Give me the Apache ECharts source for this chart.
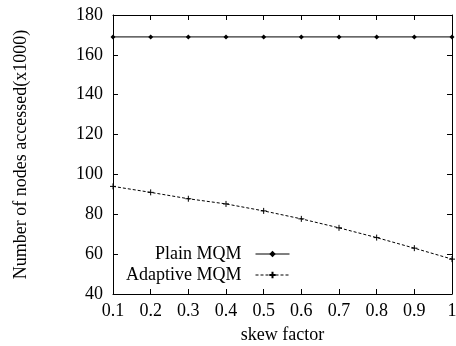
<!DOCTYPE html>
<html>
<head>
<meta charset="utf-8">
<script src="https://cdn.jsdelivr.net/npm/echarts@6/dist/echarts.min.js"></script>
<style>
  html, body { margin: 0; padding: 0; background: #fff; }
  #chart { width: 456px; height: 346px; }
</style>
</head>
<body>
<div id="chart"></div>
<script>
  // skew factor on x, nodes accessed (x1000) on y
  const skew = [0.1, 0.2, 0.3, 0.4, 0.5, 0.6, 0.7, 0.8, 0.9, 1.0]
  const plainMQM = [169, 169, 169, 169, 169, 169, 169, 169, 169, 169]
  const adaptiveMQM = [94, 91, 87.8, 85.2, 81.7, 77.7, 73.2, 68.3, 63, 57.5]

  const font = 'Liberation Serif'
  const plus = 'path://M0,3H6M3,0V6'

  const chart = echarts.init(document.getElementById('chart'))

  const pairs = (ys) => skew.map((x, i) => [x, ys[i]])

  const baseX = {
    type: 'value', min: 0.1, max: 1, interval: 0.1,
    axisLine: { show: true, lineStyle: { color: '#000', width: 1 } },
    axisTick: { show: true, inside: true, length: 5, lineStyle: { color: '#000' } },
    splitLine: { show: false }
  }
  const baseY = {
    type: 'value', min: 40, max: 180, interval: 20,
    axisLine: { show: true, lineStyle: { color: '#000', width: 1 } },
    axisTick: { show: true, inside: true, length: 5, lineStyle: { color: '#000' } },
    splitLine: { show: false }
  }

  chart.setOption({
    animation: false,
    grid: { left: 113, right: 4, top: 15, bottom: 52, outerBoundsMode: 'none' },
    legend: {
      right: 161, top: 240,
      orient: 'vertical',
      align: 'right',
      itemWidth: 34, itemHeight: 8, itemGap: 3,
      lineStyle: { width: 1 },
      textStyle: { fontFamily: font, fontSize: 18, color: '#000', padding: [0, 9, 0, 0] },
      data: ['Plain MQM', 'Adaptive MQM']
    },
    xAxis: [
      Object.assign({}, baseX, {
        position: 'bottom',
        name: 'skew factor', nameLocation: 'middle', nameGap: 32,
        nameTextStyle: { fontFamily: font, fontSize: 18, color: '#000' },
        axisLabel: {
          fontFamily: font, fontSize: 18, color: '#000', margin: 8,
          formatter: v => (Math.abs(v - 1) < 1e-9 ? '1' : v.toFixed(1))
        }
      }),
      Object.assign({}, baseX, { position: 'top', axisLabel: { show: false } })
    ],
    yAxis: [
      Object.assign({}, baseY, {
        position: 'left',
        name: 'Number of nodes accessed(x1000)', nameLocation: 'middle', nameGap: 83,
        nameTextStyle: { fontFamily: font, fontSize: 18, color: '#000' },
        axisLabel: { fontFamily: font, fontSize: 18, color: '#000', margin: 10 }
      }),
      Object.assign({}, baseY, { position: 'right', axisLabel: { show: false } })
    ],
    series: [
      {
        name: 'Plain MQM', type: 'line', data: pairs(plainMQM),
        symbol: 'diamond', symbolSize: 5,
        itemStyle: { color: '#000' },
        lineStyle: { color: '#000', width: 1 }
      },
      {
        name: 'Adaptive MQM', type: 'line', data: pairs(adaptiveMQM),
        symbol: plus, symbolSize: 6,
        itemStyle: { color: '#000', borderColor: '#000', borderWidth: 1 },
        lineStyle: { color: '#000', width: 1, type: [3, 2] }
      }
    ]
  })
</script>
</body>
</html>
